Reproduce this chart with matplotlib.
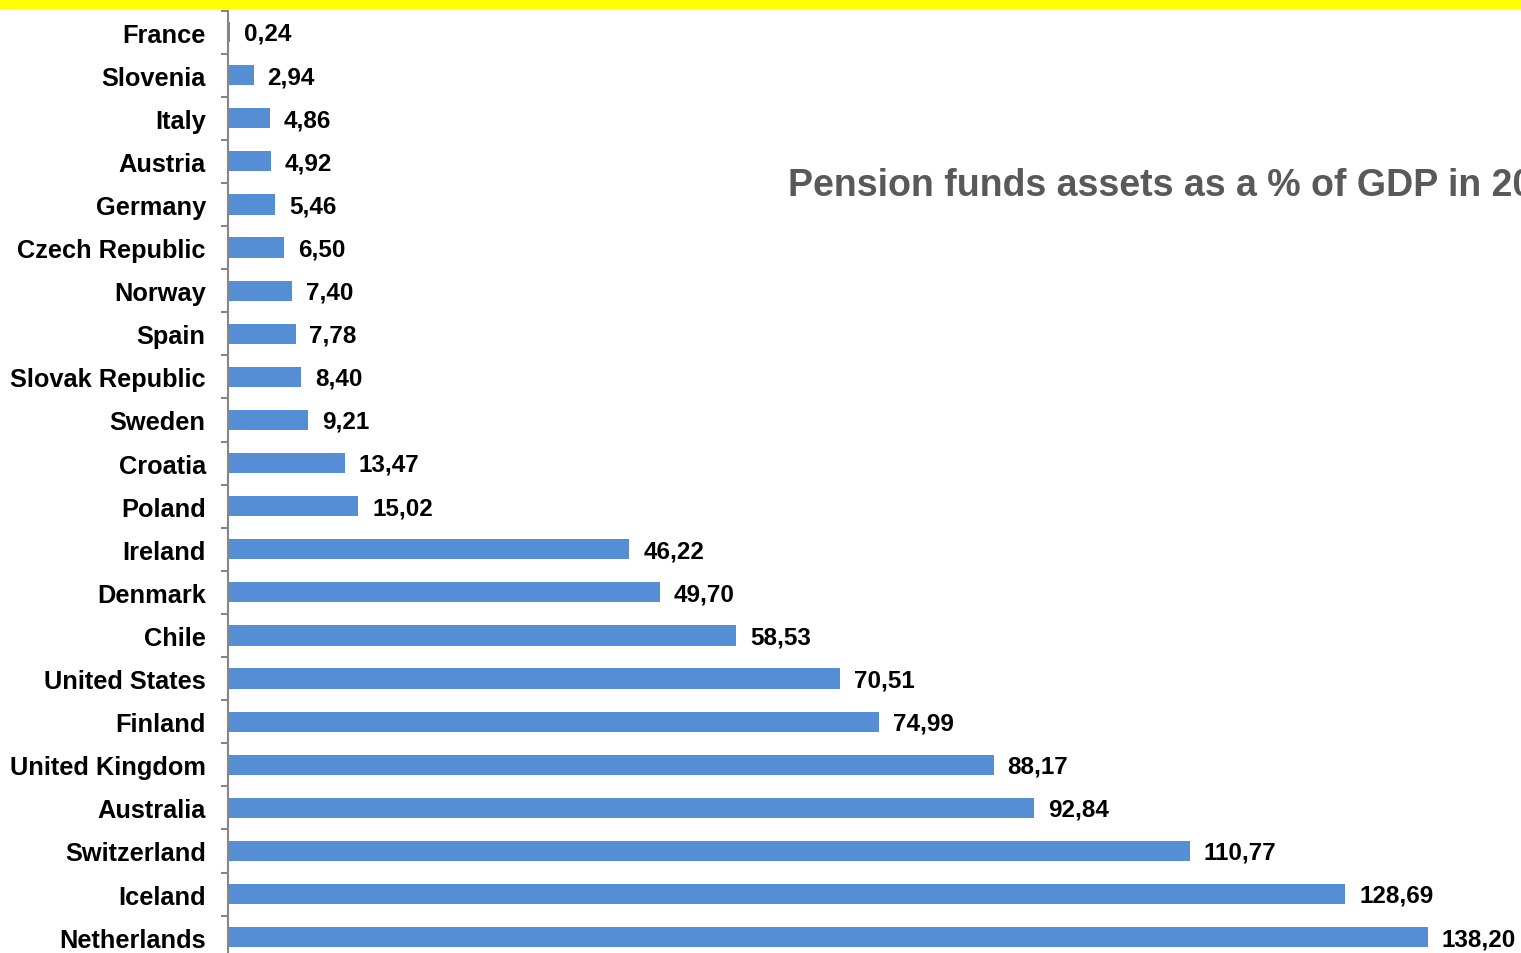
import matplotlib.pyplot as plt
from matplotlib.patches import Rectangle

# Données (lecture du graphique)
countries = ["France", "Slovenia", "Italy", "Austria", "Germany", "Czech Republic",
             "Norway", "Spain", "Slovak Republic", "Sweden", "Croatia", "Poland",
             "Ireland", "Denmark", "Chile", "United States", "Finland",
             "United Kingdom", "Australia", "Switzerland", "Iceland", "Netherlands"]
values = [0.24, 2.94, 4.86, 4.92, 5.46, 6.50, 7.40, 7.78, 8.40, 9.21, 13.47, 15.02,
          46.22, 49.70, 58.53, 70.51, 74.99, 88.17, 92.84, 110.77, 128.69, 138.20]
title = "Pension funds assets as a % of GDP in 2012"

plt.rcParams['font.family'] = ['Liberation Sans', 'DejaVu Sans']

W, H = 1521, 954
fig = plt.figure(figsize=(W / 100, H / 100), dpi=100)

# bande jaune en haut
fig.patches.append(Rectangle((0, 1 - 9 / H), 1, 9 / H, transform=fig.transFigure,
                             color="#FFFF00", zorder=0))

# axe : haut à 11.5 px, pas de 43.1 px par catégorie
n = len(countries)
step = 43.1
top_px = 11.5
bottom_px = top_px + n * step
left_px = 228
ax = fig.add_axes([left_px / W, 1 - bottom_px / H, (W - left_px) / W, (bottom_px - top_px) / H])

pos = list(range(n))
ax.barh(pos, values, height=0.47, color="#558ED5")
ax.set_ylim(n - 0.5, -0.5)
ax.set_xlim(0, (W - left_px) / 8.683)

for y, v in zip(pos, values):
    ax.annotate(f"{v:.2f}".replace(".", ","), (v, y), xytext=(10, -1),
                textcoords="offset points", va="center", ha="left",
                fontsize=17.5, fontweight="bold", color="black", annotation_clip=False)

for s in ["top", "right", "bottom"]:
    ax.spines[s].set_visible(False)
ax.spines["left"].set_color("#868686")
ax.spines["left"].set_linewidth(1.5)
ax.set_xticks([])
ax.set_yticks(pos)
ax.set_yticklabels(countries, fontsize=18.3, fontweight="bold")
ax.tick_params(axis="y", which="major", length=0, pad=16)
ax.set_yticks([p - 0.5 for p in pos], minor=True)
ax.tick_params(axis="y", which="minor", length=5, width=1.5, color="#868686", direction="out")

fig.text(788 / W, 1 - 186 / H, title, fontsize=27, fontweight="bold",
         color="#595959", ha="left", va="center")

fig.savefig("out.png", dpi=100)
